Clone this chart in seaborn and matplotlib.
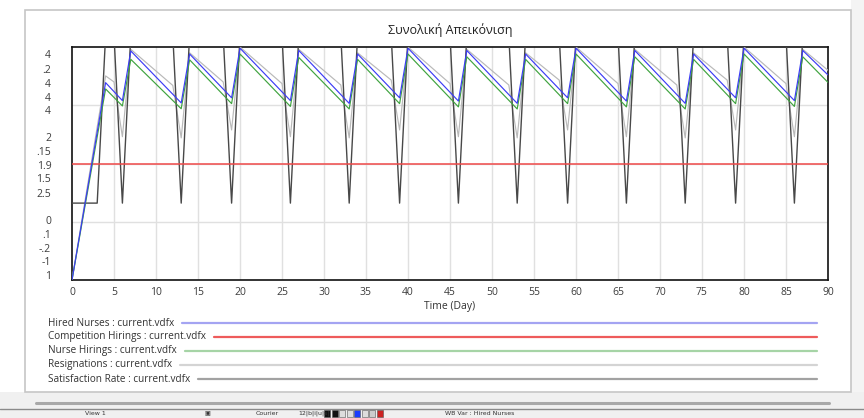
import matplotlib
matplotlib.use("Agg")
import matplotlib.pyplot as plt
import numpy as np
import pandas as pd
import seaborn as sns
from matplotlib.lines import Line2D
from matplotlib.patches import Rectangle

# ---------------- data ----------------
title = "Συνολική Απεικόνιση"
x_label = "Time (Day)"
x_ticks = list(range(0, 91, 5))

y_tick_pos = [0.969, 0.906, 0.847, 0.787, 0.730,
              0.615, 0.554, 0.494, 0.438, 0.375,
              0.258, 0.197, 0.137, 0.082, 0.021]
y_tick_labels = ["4", ".2", "4", "4", "4",
                 "2", ".15", "1.9", "1.5", "2.5",
                 "0", ".1", "-.2", "-1", "1"]

hired_t = [0, 4, 6, 7, 13, 14, 19, 20, 26, 27, 33, 34, 39, 40, 46, 47,
           53, 54, 59, 60, 66, 67, 73, 74, 79, 80, 86, 87, 90]
hired_v = [0, 0.847, 0.77, 0.983, 0.76, 0.97, 0.782, 0.995, 0.77, 0.985,
           0.758, 0.97, 0.782, 0.995, 0.768, 0.985, 0.758, 0.97, 0.782,
           0.995, 0.768, 0.985, 0.758, 0.97, 0.782, 0.995, 0.77, 0.985, 0.88]

nurse_hirings_t = hired_t
nurse_hirings_v = [0, 0.82, 0.747, 0.947, 0.735, 0.945, 0.757, 0.97, 0.745,
                   0.955, 0.734, 0.947, 0.757, 0.97, 0.743, 0.958, 0.734,
                   0.947, 0.757, 0.97, 0.743, 0.958, 0.734, 0.947, 0.757,
                   0.97, 0.745, 0.958, 0.848]

competition_t = [0, 90]
competition_v = [0.496, 0.496]

resign_t = [0, 4, 5, 6, 7, 12, 13, 14, 18, 19, 20, 25, 26, 27, 32, 33, 34,
            38, 39, 40, 45, 46, 47, 52, 53, 54, 58, 59, 60, 65, 66, 67, 72,
            73, 74, 78, 79, 80, 85, 86, 87, 90]
resign_v = [0, 0.876, 0.85, 0.615, 0.99, 0.835, 0.61, 0.975, 0.85, 0.644,
            1.0, 0.843, 0.615, 0.99, 0.837, 0.61, 0.975, 0.858, 0.644, 1.0,
            0.843, 0.615, 0.99, 0.837, 0.61, 0.975, 0.858, 0.644, 1.0, 0.843,
            0.615, 0.99, 0.837, 0.61, 0.975, 0.858, 0.644, 1.0, 0.843, 0.615,
            0.99, 0.9]

satis_t = [0, 3, 4, 5, 6, 7, 12, 13, 14, 18, 19, 20, 25, 26, 27, 32, 33, 34,
           38, 39, 40, 45, 46, 47, 52, 53, 54, 58, 59, 60, 65, 66, 67, 72,
           73, 74, 78, 79, 80, 85, 86, 87, 90]
satis_v = [0.33, 0.33, 1.05, 1.05, 0.33, 1.05, 1.05, 0.33, 1.05, 1.05, 0.33,
           1.05, 1.05, 0.33, 1.05, 1.05, 0.33, 1.05, 1.05, 0.33, 1.05, 1.05,
           0.33, 1.05, 1.05, 0.33, 1.05, 1.05, 0.33, 1.05, 1.05, 0.33, 1.05,
           1.05, 0.33, 1.05, 1.05, 0.33, 1.05, 1.05, 0.33, 1.05, 1.05]

series_names = ["Resignations", "Satisfaction Rate", "Competition Hirings",
                "Nurse Hirings", "Hired Nurses"]
series_data = {
    "Resignations": (resign_t, resign_v),
    "Satisfaction Rate": (satis_t, satis_v),
    "Competition Hirings": (competition_t, competition_v),
    "Nurse Hirings": (nurse_hirings_t, nurse_hirings_v),
    "Hired Nurses": (hired_t, hired_v),
}
line_colors = {
    "Hired Nurses": "#3c3cf5",
    "Competition Hirings": "#f04a4a",
    "Nurse Hirings": "#3fa33f",
    "Resignations": "#b9b9b9",
    "Satisfaction Rate": "#484848",
}
legend_order = ["Hired Nurses", "Competition Hirings", "Nurse Hirings",
                "Resignations", "Satisfaction Rate"]
legend_colors = {
    "Hired Nurses": "#a4a4f2",
    "Competition Hirings": "#ee5b5b",
    "Nurse Hirings": "#a6d4a6",
    "Resignations": "#d4d4d4",
    "Satisfaction Rate": "#a2a2a2",
}

frames = []
for name in series_names:
    t, v = series_data[name]
    frames.append(pd.DataFrame({"t": t, "v": v, "series": name}))
df = pd.concat(frames, ignore_index=True)

# ---------------- figure ----------------
sns.set_theme(style="white")
plt.rcParams["font.family"] = ["Open Sans", "DejaVu Sans"]

W, H = 864, 418
fig = plt.figure(figsize=(W / 100, H / 100), dpi=100)
fig.patch.set_facecolor("white")


def fx(px):
    return px / W


def fy(py):
    return 1 - py / H


# outer window decorations (behind everything)
fig.patches.append(Rectangle((fx(851), fy(392)), fx(864) - fx(851), fy(0) - fy(392),
                             transform=fig.transFigure, facecolor="#f4f4f4",
                             edgecolor="none", zorder=-3))
fig.patches.append(Rectangle((0, 0), 1, fy(392), transform=fig.transFigure,
                             facecolor="#f0f0f0", edgecolor="none", zorder=-3))
fig.patches.append(Rectangle((fx(25), fy(392)), fx(851) - fx(25), fy(10) - fy(392),
                             transform=fig.transFigure, facecolor="white",
                             edgecolor="#c6c6c6", linewidth=1.2, zorder=-2))
fig.lines.append(Line2D([fx(36), fx(829)], [fy(403), fy(403)], transform=fig.transFigure,
                        color="#a8a8a8", linewidth=2.2, zorder=-1))
fig.lines.append(Line2D([0, 1], [fy(408.5), fy(408.5)], transform=fig.transFigure,
                        color="#8a8a8a", linewidth=1.0, zorder=-1))
status_items = [(85, "View 1"), (204, "\u25a3"), (256, "Courier"),
                (298, "12|b|i|u|s|"), (445, "WB Var : Hired Nurses")]
for px, s in status_items:
    fig.text(fx(px), fy(413.5), s, fontsize=4.5, color="#333333", va="center",
             ha="left", family=["DejaVu Sans"])
icon_cols = ["#111111", "#111111", "#dddddd", "#dddddd", "#1a3cff", "#dddddd",
             "#cccccc", "#cc2222"]
for i, c in enumerate(icon_cols):
    fig.patches.append(Rectangle((fx(324 + i * 7.5), fy(417)), fx(6), fy(410) - fy(417),
                                 transform=fig.transFigure, facecolor=c,
                                 edgecolor="#555555", linewidth=0.4, zorder=-1))

# plot area
ax = fig.add_axes([fx(72), fy(280), fx(828) - fx(72), fy(47) - fy(280)])
ax.set_zorder(5)
ax.set_facecolor("white")

for xv in x_ticks[1:-1]:
    ax.axvline(xv, color="#e0e0e0", linewidth=1.0, zorder=0)
for yv in [0.25, 0.5, 0.75]:
    ax.axhline(yv, color="#e0e0e0", linewidth=1.0, zorder=0)

widths = {"Competition Hirings": 1.1, "Satisfaction Rate": 1.0}
for name in series_names:
    sub = df[df["series"] == name]
    sns.lineplot(data=sub, x="t", y="v", ax=ax, color=line_colors[name],
                 linewidth=widths.get(name, 0.85), estimator=None, sort=False,
                 legend=False, zorder=3)

ax.set_xlim(0, 90)
ax.set_ylim(0, 1)
ax.set_xticks(x_ticks)
ax.set_xticklabels([str(v) for v in x_ticks])
ax.set_yticks(y_tick_pos)
ax.set_yticklabels(y_tick_labels)
ax.tick_params(axis="both", length=0, labelsize=7.5, colors="#3c3c3c")
ax.tick_params(axis="y", pad=15)
ax.tick_params(axis="x", pad=5)
for lab in ax.get_yticklabels():
    lab.set_horizontalalignment("right")
ax.set_xlabel(x_label, fontsize=7.5, color="#333333", labelpad=2)
ax.set_ylabel("")
for sp in ax.spines.values():
    sp.set_color("#111111")
    sp.set_linewidth(1.2)
    sp.set_visible(True)

fig.text(fx(450), fy(30), title, fontsize=9, color="#222222", ha="center", va="center")

# legend panel
rows = [323, 337, 351, 365, 379]
fig.canvas.draw()
renderer = fig.canvas.get_renderer()
for name, py in zip(legend_order, rows):
    txt = fig.text(fx(48), fy(py), f"{name} : current.vdfx", fontsize=7.2,
                   color="#333333", ha="left", va="center")
    bb = txt.get_window_extent(renderer=renderer)
    x_start = bb.x1 + 8
    fig.lines.append(Line2D([x_start / W, fx(817)], [fy(py), fy(py)],
                            transform=fig.transFigure, color=legend_colors[name],
                            linewidth=1.6))

fig.savefig("out.png", dpi=100, facecolor=fig.get_facecolor())
